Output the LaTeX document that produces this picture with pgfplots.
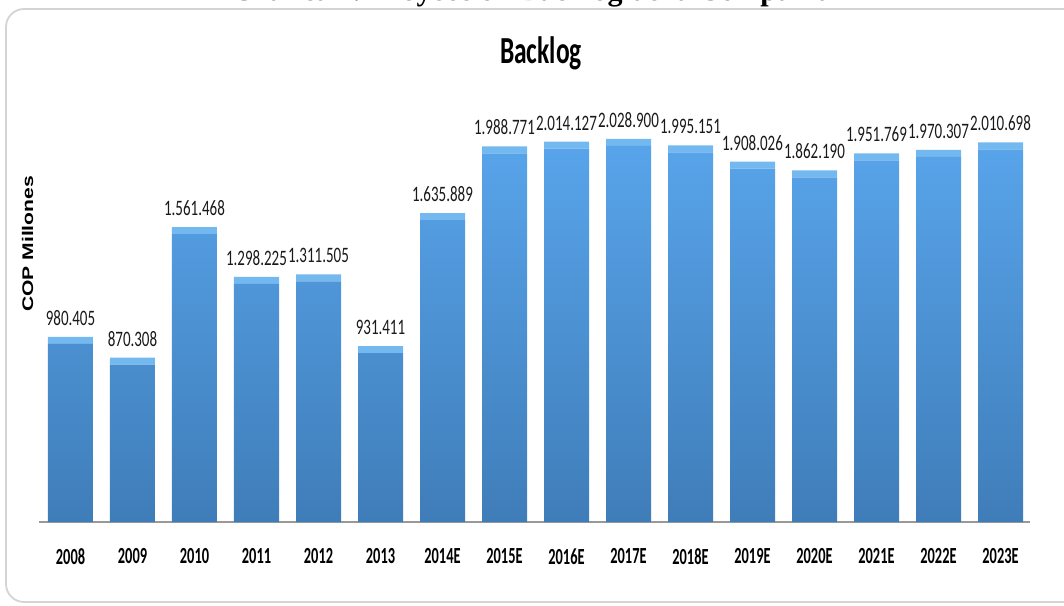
\documentclass[border=0pt]{standalone}
\usepackage{pgfplots}
\pgfplotsset{compat=1.18}
\usepackage{fontspec}
\setmainfont{Carlito}
\newfontfamily\arialfont{Liberation Sans}
\newfontfamily\timesfont{Liberation Serif}
\definecolor{bartop}{HTML}{58A4EA}
\definecolor{barbot}{HTML}{3F7DB9}
\definecolor{bevel}{HTML}{74B8F0}
\definecolor{framegray}{HTML}{D4D4D4}
\newcommand\vst[2]{\scalebox{1}[#1]{#2}}
\newcommand\tl[1]{\vst{1.6}{#1}}
\begin{document}
\begin{tikzpicture}
  \clip (0,0) rectangle (532pt,302.5pt);
  \useasboundingbox (0,0) rectangle (532pt,302.5pt);
  % cut-off caption above the chart frame
  \node[anchor=base, inner sep=0, font=\timesfont\bfseries] at (266pt,302.4pt)
    {\resizebox{300pt}{!}{Gráfica 4. Proyección Backlog de la Compañía}};
  % chart frame
  \draw[framegray, line width=0.9pt, rounded corners=9pt]
    (3pt,1.5pt) rectangle (570pt,298pt);
  % title
  \node[anchor=base, inner sep=0, font=\fontsize{12.75}{14}\selectfont\bfseries]
    at (270.5pt,270.5pt) {\vst{1.5}{Backlog}};
  % y label
  \node[rotate=90, inner sep=0, font=\arialfont\fontsize{7.7}{9}\selectfont\bfseries]
    at (13.75pt,180.5pt) {\scalebox{1.37}[1]{COP Millones}};
  \begin{axis}[
      at={(19.5pt,41.5pt)}, anchor=south west,
      scale only axis,
      width=495.5pt, height=211pt,
      xmin=-0.508, xmax=15.476,
      ymin=0, ymax=2235000,
      ybar stacked,
      bar width=22.5pt,
      axis y line=none,
      axis x line*=bottom,
      x axis line style={-, draw=gray!80, line width=0.7pt},
      xtick={0,...,15},
      xticklabels={\tl{2008},\tl{2009},\tl{2010},\tl{2011},\tl{2012},\tl{2013},
        \tl{2014E},\tl{2015E},\tl{2016E},\tl{2017E},\tl{2018E},\tl{2019E},
        \tl{2020E},\tl{2021E},\tl{2022E},\tl{2023E}},
      major tick length=0pt,
      xticklabel style={anchor=north, inner sep=0pt, yshift=-13pt,
        font=\fontsize{7.2}{8}\selectfont\bfseries},
      clip=false,
    ]
    % body of each bar (value minus the bevel strip)
    \addplot[draw=none, shading=axis, top color=bartop, bottom color=barbot] coordinates {
      (0,943405) (1,833308) (2,1524468) (3,1261225) (4,1274505) (5,894411)
      (6,1598889) (7,1951771) (8,1977127) (9,1991900) (10,1958151) (11,1871026)
      (12,1825190) (13,1914769) (14,1933307) (15,1973698)
    };
    % light bevel on top of each bar, carries the value labels
    \addplot[draw=none, fill=bevel,
        point meta=explicit symbolic,
        nodes near coords={\vst{1.47}{\pgfplotspointmeta}},
        nodes near coords style={anchor=base, inner sep=0pt, yshift=7.5pt,
          font=\fontsize{7.5}{8}\selectfont, text=black!90}]
      coordinates {
      (0,37000) [980.405]
      (1,37000) [870.308]
      (2,37000) [1.561.468]
      (3,37000) [1.298.225]
      (4,37000) [1.311.505]
      (5,37000) [931.411]
      (6,37000) [1.635.889]
      (7,37000) [1.988.771]
      (8,37000) [2.014.127]
      (9,37000) [2.028.900]
      (10,37000) [1.995.151]
      (11,37000) [1.908.026]
      (12,37000) [1.862.190]
      (13,37000) [1.951.769]
      (14,37000) [1.970.307]
      (15,37000) [2.010.698]
    };
  \end{axis}
\end{tikzpicture}
\end{document}
